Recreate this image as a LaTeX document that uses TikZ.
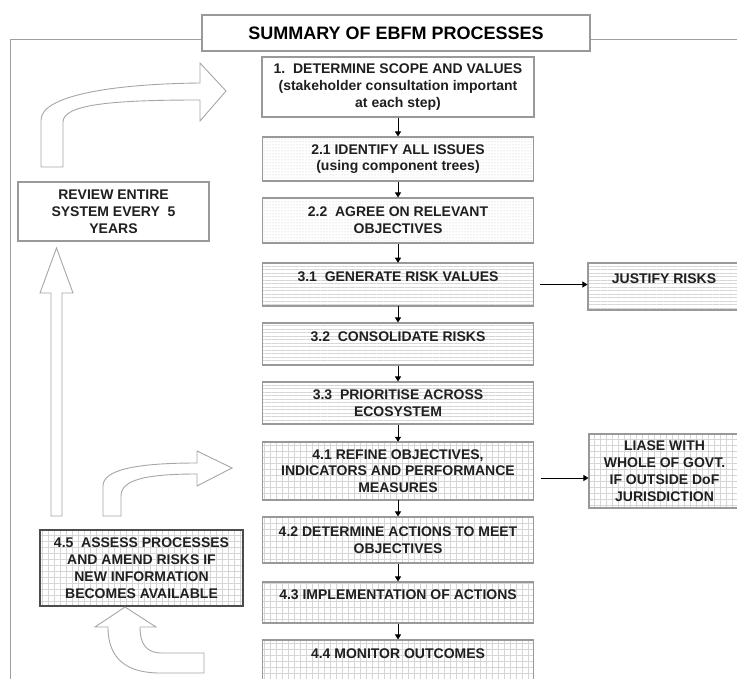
\documentclass[tikz,border=0pt]{standalone}
\usepackage{fontspec}
\setmainfont{Liberation Sans}
\usepackage{tikz}
\usetikzlibrary{arrows.meta,patterns.meta}

\begin{document}
\begin{tikzpicture}[x=1pt,y=-1pt,
    box/.style={draw=gray!80,line width=1.1pt,align=center,inner sep=2pt,
      text=black!88,font=\fontsize{14}{16.8}\selectfont\bfseries,
      minimum width=271pt},
    dotbox/.style={box,pattern={Dots[distance=3pt,radius=0.5pt]},pattern color=gray!50},
    linebox/.style={box,pattern={Lines[distance=3.5pt,angle=0,line width=0.5pt]},pattern color=gray!32},
    gridbox/.style={box,pattern={Hatch[distance=6pt,angle=0,line width=0.4pt]},pattern color=gray!32},
    upper/.style={text depth=15pt},
    flow/.style={-{Triangle[length=5pt,width=6pt]},line width=0.8pt},
    hollow/.style={draw=gray!70,line width=0.9pt,fill=white}]
    \useasboundingbox (0,0) rectangle (737,679);

    % frame and title
    \draw[gray!75,line width=1pt] (10,679) -- (10,40) -- (737,40);
    \node[box,fill=white,text=black,minimum width=388pt,minimum height=36pt,
      font=\fontsize{18}{21}\selectfont\bfseries] (title) at (396,33) {SUMMARY OF EBFM PROCESSES};

    % main column
    \node[box,fill=white,minimum width=272pt,minimum height=60pt] (scope) at (398,87)
      {1.\ \ DETERMINE SCOPE AND VALUES\\(stakeholder consultation important\\at each step)};
    \node[dotbox,minimum height=44pt] (issues) at (398,159) {2.1 IDENTIFY ALL ISSUES\\(using component trees)};
    \node[dotbox,minimum height=45pt] (agree) at (398,220.5) {2.2\ \ AGREE ON RELEVANT\\OBJECTIVES};
    \node[linebox,upper,minimum height=43pt] (gen) at (398,284.5) {3.1\ \ GENERATE RISK VALUES};
    \node[linebox,upper,minimum height=42pt] (consol) at (398,344) {3.2\ \ CONSOLIDATE RISKS};
    \node[linebox,minimum height=42pt] (prior) at (398,403) {3.3\ \ PRIORITISE ACROSS\\ECOSYSTEM};
    \node[gridbox,minimum height=58pt] (refine) at (398,471)
      {4.1 REFINE OBJECTIVES,\\INDICATORS AND PERFORMANCE\\MEASURES};
    \node[gridbox,minimum height=46pt] (actions) at (398,540) {4.2 DETERMINE ACTIONS TO MEET\\OBJECTIVES};
    \node[gridbox,upper,minimum height=41pt] (impl) at (398,602.5) {4.3 IMPLEMENTATION OF ACTIONS};
    \node[gridbox,upper,minimum height=43pt] (monitor) at (398,661.5) {4.4 MONITOR OUTCOMES};

    % side boxes
    \node[linebox,upper,minimum width=152pt,minimum height=47pt] (justify) at (664,286.5) {JUSTIFY RISKS};
    \node[gridbox,minimum width=151pt,minimum height=74pt] (liase) at (664.5,471)
      {LIASE WITH\\WHOLE OF GOVT.\\IF OUTSIDE DoF\\JURISDICTION};
    \node[box,fill=white,minimum width=191pt,minimum height=59pt] (review) at (113.5,211.5)
      {REVIEW ENTIRE\\SYSTEM EVERY\ \ 5\\YEARS};
    \node[gridbox,draw=black!70,line width=2pt,minimum width=203pt,minimum height=76pt] (assess) at (141.5,568)
      {4.5\ \ ASSESS PROCESSES\\AND AMEND RISKS IF\\NEW INFORMATION\\BECOMES AVAILABLE};

    % flow arrows
    \draw[flow] (scope) -- (issues);
    \draw[flow] (issues) -- (agree);
    \draw[flow] (agree) -- (gen);
    \draw[flow] (gen) -- (consol);
    \draw[flow] (consol) -- (prior);
    \draw[flow] (prior) -- (refine);
    \draw[flow] (refine) -- (actions);
    \draw[flow] (actions) -- (impl);
    \draw[flow] (impl) -- (monitor);
    \draw[flow,shorten <=6pt] (gen.east) -- (gen.east -| justify.west);
    \draw[flow,shorten <=7pt] ([yshift=-7pt]refine.east) -- ([yshift=-7pt]refine.east -| liase.west);

    % hollow arrows
    \draw[hollow] (41,167) -- (41,120) .. controls (41,96) and (110,84) .. (200,83)
      -- (200,63) -- (226,91) -- (200,121) -- (200,100)
      .. controls (115,100) and (63,104) .. (63,122) -- (63,167) -- cycle;
    \draw[hollow] (51,516) -- (51,293) -- (40,293) -- (56.5,248) -- (73,293) -- (62,293) -- (62,516) -- cycle;
    \draw[hollow] (103,516) -- (103,486) .. controls (103,470) and (135,463) .. (197,463)
      -- (197,451) -- (232,468) -- (197,486) -- (197,474)
      .. controls (145,474) and (121,480) .. (121,496) -- (121,516) -- cycle;
    \draw[hollow] (108,627) .. controls (108,660) and (128,673) .. (160,673) -- (204,673) -- (204,653)
      -- (162,653) .. controls (147,653) and (140,645) .. (140,627)
      -- (156,627) -- (125,607) -- (95,627) -- cycle;
\end{tikzpicture}
\end{document}
